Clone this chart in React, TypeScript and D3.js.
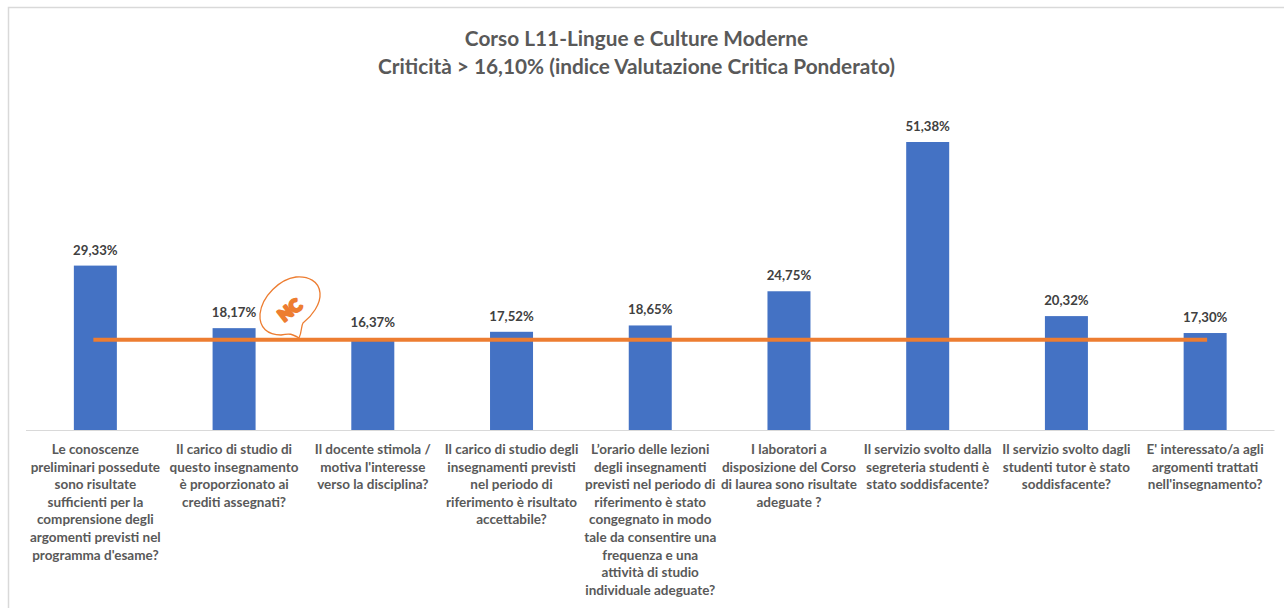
import React from 'react';
import * as d3 from 'd3';

const titleLines = ['Corso L11-Lingue e Culture Moderne', 'Criticità > 16,10% (indice Valutazione Critica Ponderato)'];

const categories = ['q1', 'q2', 'q3', 'q4', 'q5', 'q6', 'q7', 'q8', 'q9'];

const values = [29.33, 18.17, 16.37, 17.52, 18.65, 24.75, 51.38, 20.32, 17.3];

const threshold = [16.1, 16.1, 16.1, 16.1, 16.1, 16.1, 16.1, 16.1, 16.1];

const labels = [
  ['Le conoscenze', 'preliminari possedute', 'sono risultate', 'sufficienti per la', 'comprensione degli', 'argomenti previsti nel', "programma d'esame?"],
  ['Il carico di studio di', 'questo insegnamento', 'è proporzionato ai', 'crediti assegnati?'],
  ['Il docente stimola /', "motiva l'interesse", 'verso la disciplina?'],
  ['Il carico di studio degli', 'insegnamenti previsti', 'nel periodo di', 'riferimento è risultato', 'accettabile?'],
  ['L’orario delle lezioni', 'degli insegnamenti', 'previsti nel periodo di', 'riferimento è stato', 'congegnato in modo', 'tale da consentire una', 'frequenza e una', 'attività di studio', 'individuale adeguate?'],
  ['I laboratori a', 'disposizione del Corso', 'di laurea sono risultate', 'adeguate ?'],
  ['Il servizio svolto dalla', 'segreteria studenti è', 'stato soddisfacente?'],
  ['Il servizio svolto dagli', 'studenti tutor è stato', 'soddisfacente?'],
  ["E' interessato/a agli", 'argomenti trattati', "nell'insegnamento?"],
];

const font = 'Lato, "Open Sans", sans-serif';
const textColor = '#595959';

const x = d3.scaleBand<string>().domain(categories).range([26, 1274.5]).paddingInner(0.69).paddingOuter(0.345);
const y = d3.scaleLinear().domain([0, 51.38]).range([430, 142]);

const pct = (v: number) => v.toFixed(2).replace('.', ',') + '%';

export default function App() {
  const line = d3.line<number>()
    .x((_, i) => x(categories[i])! + x.bandwidth() / 2)
    .y((d) => y(d));

  return (
    <svg width={1284} height={608} style={{ position: 'absolute', left: 0, top: 0, background: '#fff' }} fontFamily={font}>
      <path d="M8.5,608V7.5H1284" fill="none" stroke="#d9d9d9" strokeWidth={1.5} />

      {titleLines.map((t, i) => (
        <text key={i} x={636.5} y={46 + i * 27.5} textAnchor="middle" fontSize={20.8} fontWeight={700} fill={textColor}>{t}</text>
      ))}

      {values.map((v, i) => (
        <rect key={i} x={x(categories[i])} y={y(v)} width={x.bandwidth()} height={y(0) - y(v)} fill="#4472c4" />
      ))}

      <line x1={26} x2={1274.5} y1={430.5} y2={430.5} stroke="#d9d9d9" strokeWidth={1.2} />

      <path d={line(threshold)!} fill="none" stroke="#ed7d31" strokeWidth={4} strokeLinecap="square" />

      {values.map((v, i) => (
        <text key={i} x={x(categories[i])! + x.bandwidth() / 2} y={y(v) - 11} textAnchor="middle" fontSize={13.2} fontWeight={700} fill="#404040">{pct(v)}</text>
      ))}

      {labels.map((rows, i) => (
        <text key={i} textAnchor="middle" fontSize={13.5} fontWeight={700} fill={textColor}>
          {rows.map((r, j) => (
            <tspan key={j} x={x(categories[i])! + x.bandwidth() / 2} y={454 + j * 17.6}>{r}</tspan>
          ))}
        </text>
      ))}

      {/* watermark bubble */}
      <path
        d="M299,338 C302,332 301,326 303,323 C312,316 321,304 320,293 C319,281 308,276 296,277 C280,279 262,296 260,314 C259,328 268,335 281,335 C290,333 292,334 299,338Z"
        fill="none" stroke="#ed7d31" strokeWidth={1.3}
      />
      <text x={290} y={316} textAnchor="middle" fontSize={17} fontWeight={900} fill="#ed7d31" stroke="#ed7d31" strokeWidth={2.5} strokeLinejoin="round" transform="rotate(-38 290 310)">NC</text>
    </svg>
  );
}
